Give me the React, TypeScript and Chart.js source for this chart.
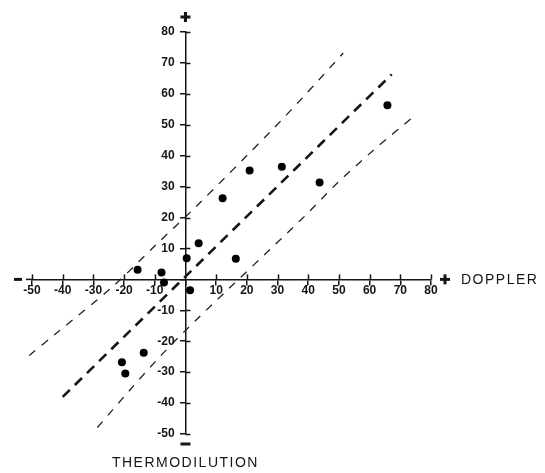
import React, { useEffect, useRef } from "react";
import { Chart, registerables } from "chart.js";

Chart.register(...registerables);

// Scatter data (Doppler vs Thermodilution)
const dopplerValues = [-15.6, -7.8, -7.0, 0.4, 1.5, 4.3, 12.1, 16.4, 20.9, 31.4, 43.7, 65.8, -20.7, -19.6, -13.6];
const thermoValues = [3.1, 2.2, -1.0, 6.8, -3.5, 11.7, 26.2, 6.7, 35.2, 36.4, 31.3, 56.3, -26.8, -30.4, -23.7];

// Regression line (thick dashed)
const regressionX = [-40, 67.2];
const regressionY = [-38.0, 66.3];

// Upper confidence band (thin dashed)
const upperBandX = [-50.9, -42.3, -23.8, -9.7, 3.4, 27.8, 38.1, 51.4];
const upperBandY = [-24.6, -17.6, -2.4, 11.1, 23.5, 47.9, 58.7, 73.2];

// Lower confidence band (thin dashed)
const lowerBandX = [-28.7, -18.3, -7.5, 3.4, 38.7, 48.9, 61.4, 74.5];
const lowerBandY = [-47.9, -36.0, -24.1, -13.2, 20.3, 30.6, 41.9, 52.8];

const xAxisLabel = "DOPPLER";
const yAxisLabel = "THERMODILUTION";

const X_MIN = -50;
const X_MAX = 80;
const Y_MIN = -50;
const Y_MAX = 80;
const STEP = 10;

const zip = (xs: number[], ys: number[]) => xs.map((x, i) => ({ x, y: ys[i] }));

const INK = "#151515";
const FONT = "'Liberation Sans', Arial, Helvetica, sans-serif";

const decorPlugin = {
  id: "decor",
  afterDraw(chart: any) {
    const ctx = chart.ctx as CanvasRenderingContext2D;
    const xs = chart.scales.x;
    const ys = chart.scales.y;
    const x0 = xs.getPixelForValue(0);
    const y0 = ys.getPixelForValue(0);
    ctx.save();
    ctx.strokeStyle = INK;
    ctx.lineWidth = 1.5;
    // inner halves of the crossing tick marks
    xs.ticks.forEach((t: any) => {
      if (t.value === 0) return;
      const px = Math.round(xs.getPixelForValue(t.value)) + 0.5;
      ctx.beginPath();
      ctx.moveTo(px, y0 - 5);
      ctx.lineTo(px, y0);
      ctx.stroke();
    });
    ys.ticks.forEach((t: any) => {
      if (t.value === 0) return;
      const py = Math.round(ys.getPixelForValue(t.value)) + 0.5;
      ctx.beginPath();
      ctx.moveTo(x0, py);
      ctx.lineTo(x0 + 5, py);
      ctx.stroke();
    });
    // small extension of the x axis to the left
    ctx.beginPath();
    ctx.moveTo(xs.left - 6, y0);
    ctx.lineTo(xs.left, y0);
    ctx.stroke();

    // plus / minus signs
    ctx.fillStyle = INK;
    const plus = (cx: number, cy: number) => {
      ctx.fillRect(cx - 5, cy - 1.5, 10, 3);
      ctx.fillRect(cx - 1.5, cy - 5, 3, 10);
    };
    plus(xs.right + 14, y0);
    plus(x0, ys.top - 15);
    ctx.fillRect(xs.left - 18, y0 - 1.5, 8, 3);
    ctx.fillRect(x0 - 5, ys.bottom + 8.5, 10, 3);

    // axis names
    ctx.font = `14px ${FONT}`;
    (ctx as any).letterSpacing = "1.5px";
    ctx.textBaseline = "middle";
    ctx.textAlign = "left";
    ctx.fillText(xAxisLabel, xs.right + 30, y0 + 1);
    ctx.textAlign = "center";
    ctx.fillText(yAxisLabel, x0, ys.bottom + 29);
    ctx.restore();
  },
};

export default function App() {
  const canvasRef = useRef<HTMLCanvasElement | null>(null);

  useEffect(() => {
    document.body.style.margin = "0";
    const canvas = canvasRef.current;
    if (!canvas) return;
    const xTickCallback = (v: any) => (Number(v) === 0 ? "" : String(v));
    // trailing spaces keep the right-aligned labels clear of the centred axis
    const yTickCallback = (v: any) => (Number(v) === 0 ? "" : String(v) + "\u2002\u2009\u2009");
    const chart = new Chart(canvas, {
      type: "scatter",
      data: {
        datasets: [
          {
            label: "Patients",
            data: zip(dopplerValues, thermoValues),
            pointRadius: 4,
            pointHoverRadius: 4,
            backgroundColor: "#000",
            borderWidth: 0,
          },
          {
            label: "Regression",
            data: zip(regressionX, regressionY),
            showLine: true,
            pointRadius: 0,
            borderColor: INK,
            borderWidth: 2.6,
            borderDash: [10, 7],
            clip: false,
          } as any,
          {
            label: "Upper band",
            data: zip(upperBandX, upperBandY),
            showLine: true,
            pointRadius: 0,
            borderColor: "#222",
            borderWidth: 1.3,
            borderDash: [8, 8],
            tension: 0.3,
            clip: false,
          } as any,
          {
            label: "Lower band",
            data: zip(lowerBandX, lowerBandY),
            showLine: true,
            pointRadius: 0,
            borderColor: "#222",
            borderWidth: 1.3,
            borderDash: [8, 8],
            tension: 0.3,
            clip: false,
          } as any,
        ],
      },
      options: {
        responsive: false,
        animation: false,
        layout: { padding: { left: 32, right: 114, top: 32, bottom: 39 } },
        plugins: { legend: { display: false }, tooltip: { enabled: false } },
        scales: {
          x: {
            type: "linear",
            min: X_MIN,
            max: X_MAX,
            position: { y: 0 } as any,
            border: { display: true, color: INK, width: 1.5 },
            grid: { drawOnChartArea: false, drawTicks: true, tickLength: 5, color: INK, lineWidth: 1.5 },
            ticks: {
              stepSize: STEP,
              color: INK,
              font: { family: FONT, size: 12, weight: "bold" },
              padding: -1,
              maxRotation: 0,
              autoSkip: false,
              callback: xTickCallback,
            },
          },
          y: {
            type: "linear",
            min: Y_MIN,
            max: Y_MAX,
            position: { x: 0 } as any,
            border: { display: true, color: INK, width: 1.5 },
            grid: { drawOnChartArea: false, drawTicks: true, tickLength: 5, color: INK, lineWidth: 1.5 },
            ticks: {
              stepSize: STEP,
              color: INK,
              font: { family: FONT, size: 12, weight: "bold" },
              padding: 5,
              autoSkip: false,
              callback: yTickCallback,
            },
          },
        },
      },
      plugins: [decorPlugin],
    });
    return () => chart.destroy();
  }, []);

  return (
    <div style={{ width: 545, height: 473, background: "#fff" }}>
      <canvas ref={canvasRef} width={545} height={473} style={{ display: "block" }} />
    </div>
  );
}
